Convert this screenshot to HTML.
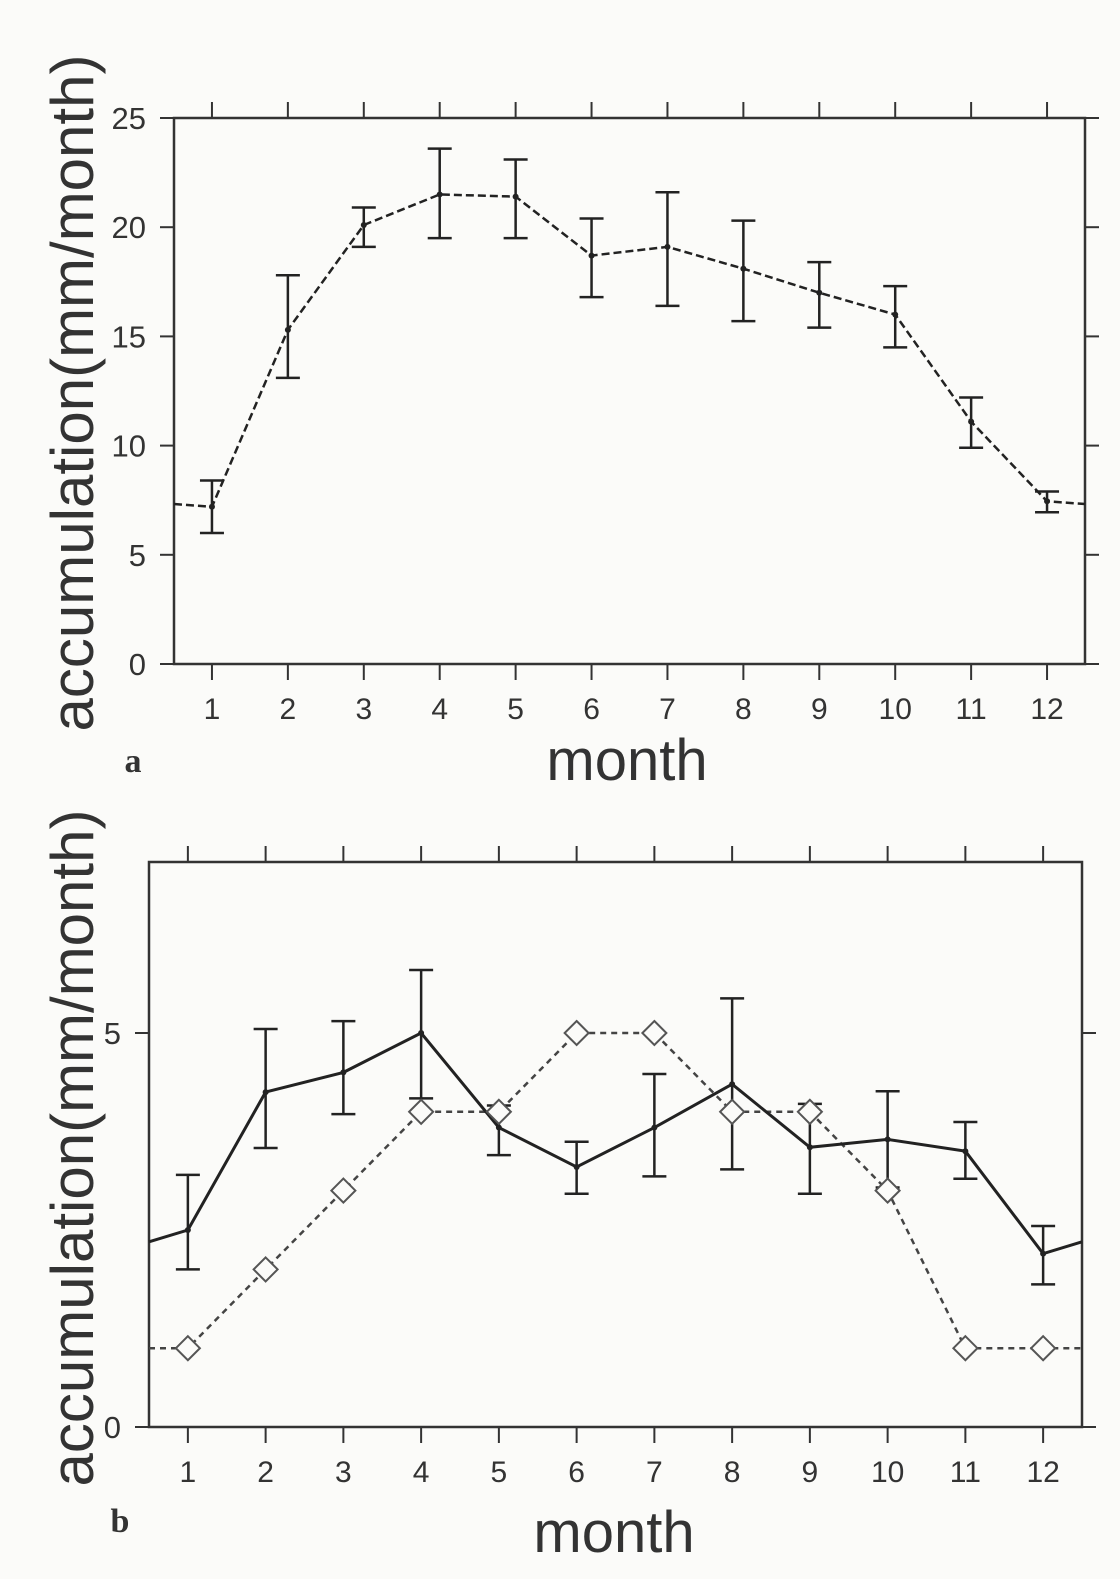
<!DOCTYPE html>
<html><head><meta charset="utf-8"><style>
html,body{margin:0;padding:0;background:#fbfbf9;}
svg{display:block;}
text{font-family:"Liberation Sans",sans-serif;fill:#333;}
</style></head><body>
<svg id="s" width="1120" height="1579" viewBox="0 0 1120 1579" xmlns="http://www.w3.org/2000/svg">
<g id="ga"></g>
<g id="gb"></g>
<text x="93" y="393" font-size="60" text-anchor="middle" transform="rotate(-90 93 393)">accumulation(mm/month)</text>
<text x="627" y="780" font-size="58" text-anchor="middle">month</text>
<text x="133" y="772" font-size="34" font-weight="bold" style="font-family:'Liberation Serif',serif" text-anchor="middle">a</text>
<text x="93" y="1148" font-size="60" text-anchor="middle" transform="rotate(-90 93 1148)">accumulation(mm/month)</text>
<text x="614" y="1552" font-size="58" text-anchor="middle">month</text>
<text x="120" y="1532" font-size="34" font-weight="bold" style="font-family:'Liberation Serif',serif" text-anchor="middle">b</text>
</svg>
<script>
const months=[1,2,3,4,5,6,7,8,9,10,11,12];
const aVals=[7.2,15.3,20.1,21.5,21.4,18.7,19.1,18.1,17.0,16.0,11.1,7.45];
const aHi=[8.4,17.8,20.9,23.6,23.1,20.4,21.6,20.3,18.4,17.3,12.2,7.9];
const aLo=[6.0,13.1,19.1,19.5,19.5,16.8,16.4,15.7,15.4,14.5,9.9,6.95];
const aYTicks=[0,5,10,15,20,25];
const bVals=[2.5,4.25,4.5,5.0,3.8,3.3,3.8,4.35,3.55,3.65,3.5,2.2];
const bHi=[3.2,5.05,5.15,5.8,4.08,3.62,4.48,5.44,4.1,4.26,3.87,2.55];
const bLo=[2.0,3.54,3.97,4.17,3.45,2.96,3.18,3.27,2.96,3.04,3.15,1.81];
const bDiam=[1,2,3,4,4,5,5,4,4,3,1,1];
const bYTicks=[0,5];
const NS="http://www.w3.org/2000/svg";
function mk(p,t,a){const e=document.createElementNS(NS,t);for(const k in a)e.setAttribute(k,a[k]);p.appendChild(e);return e;}
function wrapEnd(v){return (v[0]+v[11])/2;}
function frame(g,L,R,T,B,xs,ys,yTicks,tickTop){
  const f=mk(g,'rect',{x:L,y:T,width:R-L,height:B-T,fill:'none',stroke:'#333','stroke-width':2.5});
  
  months.forEach(m=>{const x=xs(m);
    mk(g,'line',{x1:x,y1:B,x2:x,y2:B+16,stroke:'#333','stroke-width':2});
    if(tickTop) mk(g,'line',{x1:x,y1:T,x2:x,y2:T-16,stroke:'#333','stroke-width':2});
    const t=mk(g,'text',{x:x,y:B+55,'font-size':30,'text-anchor':'middle'});t.textContent=m;
    });
  yTicks.forEach(v=>{const y=ys(v);
    mk(g,'line',{x1:L-14,y1:y,x2:L,y2:y,stroke:'#333','stroke-width':2});
    mk(g,'line',{x1:R,y1:y,x2:R+14,y2:y,stroke:'#333','stroke-width':2});
    const t=mk(g,'text',{x:L-28,y:y+11,'font-size':31,'text-anchor':'end'});t.textContent=v;
    });
}
function series(g,L,R,xs,ys,vals,hi,lo,dash,name,width){
  const pts=[[L,ys(wrapEnd(vals))]].concat(months.map((m,i)=>[xs(m),ys(vals[i])])).concat([[R,ys(wrapEnd(vals))]]);
  const p=mk(g,'polyline',{points:pts.map(q=>q.join(',')).join(' '),fill:'none',stroke:'#222','stroke-width':width});
  if(dash)p.setAttribute('stroke-dasharray',dash);
  
  months.forEach((m,i)=>{const x=xs(m);
    const e=mk(g,'path',{d:`M${x},${ys(hi[i])}V${ys(lo[i])}M${x-12},${ys(hi[i])}h24M${x-12},${ys(lo[i])}h24`,stroke:'#222','stroke-width':2.5,fill:'none'});
    
    const c=mk(g,'circle',{cx:x,cy:ys(vals[i]),r:3,fill:'#222'});
    });
}
(function(){const g=document.getElementById('ga');const L=174,R=1085,T=118,B=664;
const xs=m=>L+(m-0.5)*(R-L)/12, ys=v=>B-v*(B-T)/25;
frame(g,L,R,T,B,xs,ys,aYTicks,true);
series(g,L,R,xs,ys,aVals,aHi,aLo,'8,4','accumulation',2.5);})();
(function(){const g=document.getElementById('gb');const L=149,R=1082,T=862,B=1427;
const xs=m=>L+(m-0.5)*(R-L)/12, ys=v=>B-v*(B-1033)/5;
frame(g,L,R,T,B,xs,ys,bYTicks,true);
const pts=[[L,ys(wrapEnd(bDiam))]].concat(months.map((m,i)=>[xs(m),ys(bDiam[i])])).concat([[R,ys(wrapEnd(bDiam))]]);
const d=mk(g,'polyline',{points:pts.map(q=>q.join(',')).join(' '),fill:'none',stroke:'#444','stroke-width':2.5,'stroke-dasharray':'6,5'});

series(g,L,R,xs,ys,bVals,bHi,bLo,null,'observed',3);
months.forEach((m,i)=>{const x=xs(m),y=ys(bDiam[i]);
  const p=mk(g,'path',{d:`M${x},${y-12}L${x+12},${y}L${x},${y+12}L${x-12},${y}Z`,fill:'#fbfbf9',stroke:'#555','stroke-width':2});
  });})();
</script>
</body></html>
